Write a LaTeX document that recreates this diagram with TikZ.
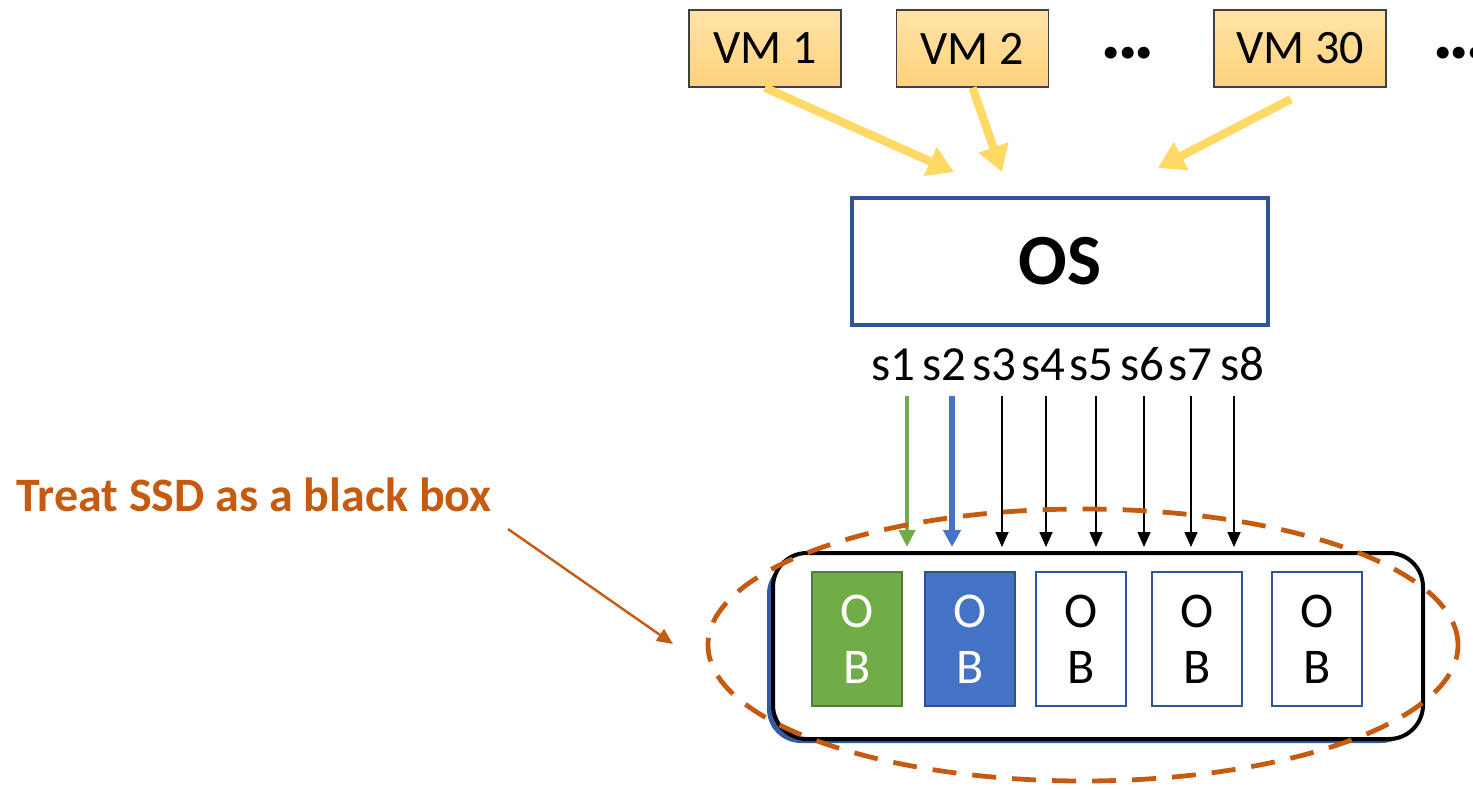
\documentclass[tikz,border=0pt]{standalone}
\usepackage{fontspec}
\setmainfont{Carlito}
\usetikzlibrary{arrows.meta,shapes.geometric}
\definecolor{vmgold}{HTML}{FFD966}
\definecolor{vmtop}{HTML}{FFE3A6}
\definecolor{vmbot}{HTML}{FFD27B}
\definecolor{osblue}{HTML}{2F5597}
\definecolor{obgreen}{HTML}{70AD47}
\definecolor{obgreenline}{HTML}{507E32}
\definecolor{obblue}{HTML}{4472C4}
\definecolor{obblueline}{HTML}{2F528F}
\definecolor{rust}{HTML}{C55A11}
\begin{document}
\begin{tikzpicture}[x=0.5pt,y=-0.5pt,
  vmbox/.style={draw=black!75, line width=0.7pt, top color=vmtop, bottom color=vmbot,
    minimum width=76pt, minimum height=38.5pt, inner sep=0pt,
    font=\fontsize{24}{28}\selectfont},
  vmarrow/.style={draw=vmgold, line width=4.2pt, -{Triangle[length=13pt,width=15pt]}},
  dots/.style={font=\fontsize{40}{40}\selectfont\bfseries, inner sep=0pt, anchor=base},
  osbox/.style={draw=osblue, line width=2.2pt, minimum width=208pt, minimum height=63.5pt,
    inner sep=0pt, font=\fontsize{36}{40}\selectfont\bfseries},
  slabel/.style={font=\fontsize{24.5}{30}\selectfont, inner sep=0pt, anchor=base},
  sarrow/.style={line width=0.8pt, -{Triangle[length=7.5pt,width=6.5pt]}},
  sarrowgreen/.style={draw=obgreen, line width=2.4pt, -{Triangle[length=8.5pt,width=8pt]}},
  sarrowblue/.style={draw=obblue, line width=2.6pt, -{Triangle[length=8.5pt,width=8.5pt]}},
  obbox/.style={line width=1pt, minimum width=45pt, minimum height=67pt, inner sep=0pt,
    align=center, font=\fontsize{25}{28}\selectfont},
  annot/.style={text=rust, font=\fontsize{24}{28}\selectfont\bfseries, inner sep=0pt}]
\useasboundingbox (0,0) rectangle (1473,788);

% virtual machines
\node[vmbox] (vm1) at (765,48.5) {VM 1};
\node[vmbox] (vm2) at (972.5,48.5) {VM 2};
\node[vmbox, minimum width=86pt] (vm30) at (1300,48.5) {VM 30};
\node[dots] (d1) at (1128,58) {.\kern-2.5pt.\kern-2.5pt.};
\node[dots, anchor=base west] (d2) at (1432,58) {.\kern-2.5pt.\kern-2.5pt.};

% operating system
\node[osbox] (os) at (1060,261.5) {OS};

\coordinate (t1) at (954,172);
\coordinate (t2) at (1002,172);
\coordinate (f30) at (1291,99);
\coordinate (t30) at (1158,168);
\draw[vmarrow] (vm1.south) -- (t1);
\draw[vmarrow] (vm2.south) -- (t2);
\draw[vmarrow] (f30) -- (t30);

% streams
\foreach \i/\lx in {1/893,2/944,3/994,4/1043,5/1091,6/1142,7/1190,8/1242}
  \node[slabel] (s\i) at (\lx,380) {s\i};
\foreach \i/\ax in {1/907,2/952,3/1002,4/1046,5/1096,6/1144,7/1191,8/1234}{
  \coordinate (a\i) at (\ax,396);
  \coordinate (b\i) at (\ax,547);
}

% SSD
\fill[osblue!80!obblue, rounded corners=17pt] (767,560) rectangle (1415,743);
\draw[line width=2pt, fill=white, rounded corners=17pt] (773,553) rectangle (1423,739);
\node (ssd) at (1098,646) {};

\node[obbox, draw=obgreenline, fill=obgreen, text=white] (ob1) at (857,639) {O\\B};
\node[obbox, draw=obblueline, fill=obblue, text=white] (ob2) at (970,639) {O\\B};
\node[obbox, draw=osblue, fill=white] (ob3) at (1081,639) {O\\B};
\node[obbox, draw=osblue, fill=white] (ob4) at (1197,639) {O\\B};
\node[obbox, draw=osblue, fill=white] (ob5) at (1317,639) {O\\B};

\draw[sarrowgreen] (a1) -- (b1);
\draw[sarrowblue] (a2) -- (b2);
\foreach \i in {3,...,8}
  \draw[sarrow] (a\i) -- (b\i);

% black-box boundary
\node[ellipse, draw=rust, line width=2.4pt, dash pattern=on 12pt off 8pt,
  minimum width=375pt, minimum height=136pt, inner sep=0pt] (bb) at (1083,645) {};

\node[annot, anchor=base west] (note) at (16,511) {Treat SSD as a black box};
\coordinate (n0) at (508,529);
\coordinate (n1) at (673,644);
\draw[rust, line width=1.2pt, -{Triangle[length=8pt,width=7pt]}] (n0) -- (n1);
\end{tikzpicture}
\end{document}
